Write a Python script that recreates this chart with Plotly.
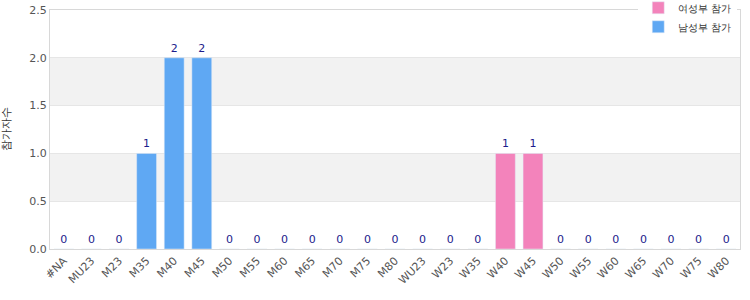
import plotly.graph_objects as go

categories = ["#NA", "MU23", "M23", "M35", "M40", "M45", "M50", "M55", "M60", "M65",
              "M70", "M75", "M80", "WU23", "W23", "W35", "W40", "W45", "W50", "W55",
              "W60", "W65", "W70", "W75", "W80"]
women = [None] * 13 + [0, 0, 0, 1, 1, 0, 0, 0, 0, 0, 0, 0]
men = [0, 0, 0, 1, 2, 2, 0, 0, 0, 0, 0, 0, 0] + [None] * 12
women_name = "여성부 참가"
men_name = "남성부 참가"
y_title = "참가자수"
y_ticks = [0, 0.5, 1.0, 1.5, 2.0, 2.5]

label_font = dict(family="DejaVu Sans", size=11, color="#1c1c8c")

fig = go.Figure()
fig.add_trace(go.Bar(x=categories, y=women, name=women_name, marker_color="#f383bb",
                     text=[("" if v is None else str(v)) for v in women],
                     textposition="outside", textfont=label_font, cliponaxis=False,
                     width=0.72))
fig.add_trace(go.Bar(x=categories, y=men, name=men_name, marker_color="#5fa8f3",
                     text=[("" if v is None else str(v)) for v in men],
                     textposition="outside", textfont=label_font, cliponaxis=False,
                     width=0.72))

shapes = []
for i in range(len(y_ticks) - 1):
    if i % 2 == 1:
        shapes.append(dict(type="rect", xref="paper", yref="y", x0=0, x1=1,
                           y0=y_ticks[i], y1=y_ticks[i + 1], fillcolor="#f2f2f2",
                           line_width=0, layer="below"))

fig.update_layout(
    width=750, height=300,
    margin=dict(l=50, r=10, t=10, b=51, autoexpand=False),
    barmode="overlay",
    plot_bgcolor="white", paper_bgcolor="white",
    font=dict(family="DejaVu Sans", size=11, color="#333333"),
    shapes=shapes,
    showlegend=True,
    legend=dict(x=0.996, xanchor="right", y=1.07, yanchor="top",
                bgcolor="white", font=dict(size=10, color="#333333"),
                traceorder="normal", itemwidth=30, tracegroupgap=0),
)
fig.update_xaxes(tickangle=-45, showline=True, linecolor="#d8d8d8", mirror=True,
                 showgrid=False, tickfont=dict(size=11, color="#555555"),
                 ticks="", range=[-0.5, len(categories) - 0.5])
fig.update_yaxes(range=[0, 2.5], tickvals=y_ticks,
                 ticktext=["0.0", "0.5", "1.0", "1.5", "2.0", "2.5"],
                 showgrid=True, gridcolor="#e6e6e6", showline=True, linecolor="#d8d8d8",
                 mirror=True, zeroline=False, tickfont=dict(size=11, color="#555555"),
                 title=dict(text=y_title, font=dict(size=11, color="#333333"), standoff=18))

fig.write_html("out.html")
